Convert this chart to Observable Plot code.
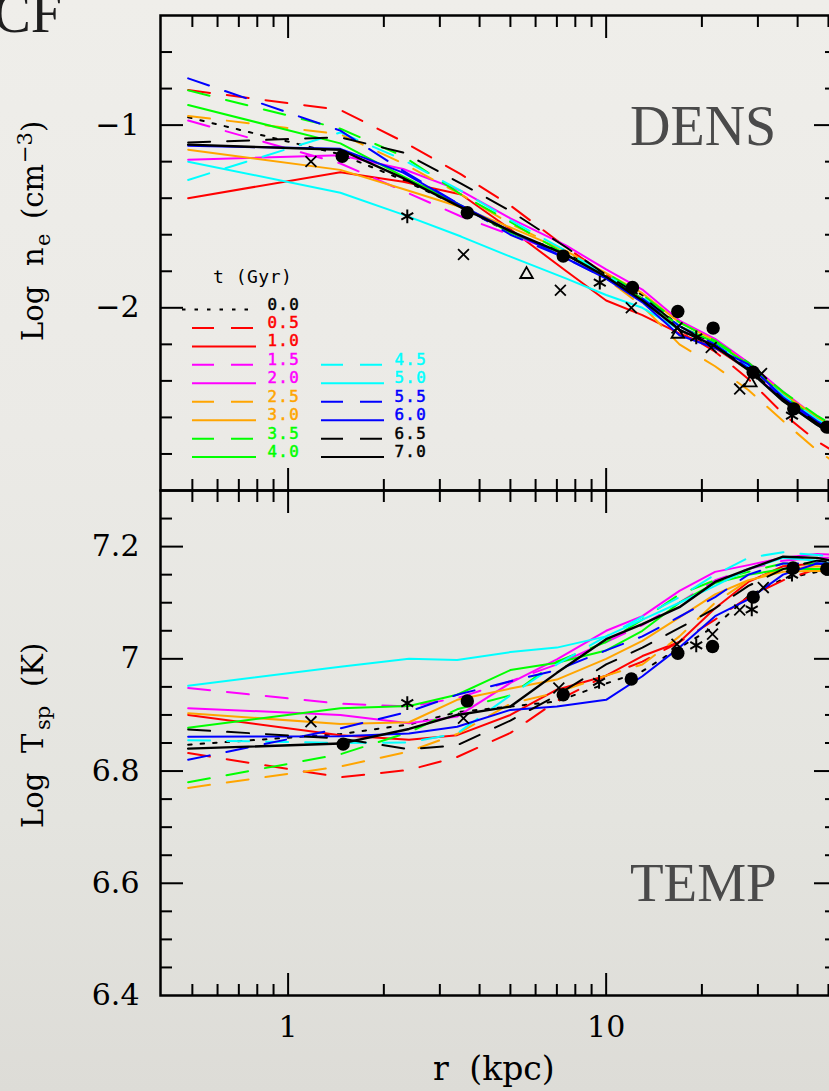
<!DOCTYPE html>
<html><head><meta charset="utf-8">
<script src="https://cdn.jsdelivr.net/npm/d3@7"></script>
<script src="https://cdn.jsdelivr.net/npm/@observablehq/plot@0.6"></script>
<style>
html,body{margin:0;padding:0;width:829px;height:1091px;overflow:hidden;}
body{position:relative;background:linear-gradient(180deg,#efeeea 0%,#ebeae6 40%,#e4e4df 75%,#dddcd7 100%);}
#top,#bottom{position:absolute;left:0;width:837px;}
#top{top:0}
#bottom{top:480px}
#overlay{position:absolute;left:0;top:0;pointer-events:none}
</style></head>
<body>
<div id="top"></div>
<div id="bottom"></div>
<svg id="overlay" width="829" height="1091"></svg>
<script>
// ---------------- DATA ----------------
const times = ["0.0","0.5","1.0","1.5","2.0","2.5","3.0","3.5","4.0","4.5","5.0","5.5","6.0","6.5","7.0"];
const seriesColor = ["#000000","#ff0000","#ff0000","#ff00ff","#ff00ff","#ffa500","#ffa500","#00ff00","#00ff00","#00ffff","#00ffff","#0000ff","#0000ff","#000000","#000000"];
const seriesDash = ["dot","dash","solid","dash","solid","dash","solid","dash","solid","dash","solid","dash","solid","dash","solid"];

// radii (kpc) of the profile nodes
const rDens = [0.485, 1.46, 2.3, 3.5, 5.0, 7.5, 10, 13, 17, 22, 28, 36, 46, 56];
const rTemp = [0.485, 1.46, 2.4, 3.4, 5.0, 7.0, 10, 13, 17, 22, 28, 36, 46, 56];

// Log n_e (cm^-3), one row per time
const logNe = [
  [-0.957,-1.16,-1.30,-1.45,-1.59,-1.70,-1.82,-1.93,-2.10,-2.20,-2.34,-2.50,-2.64,-2.73],
  [-0.808,-0.917,-1.09,-1.27,-1.44,-1.67,-1.82,-1.95,-2.12,-2.24,-2.39,-2.58,-2.73,-2.82],
  [-1.40,-1.258,-1.31,-1.38,-1.57,-1.80,-1.96,-2.04,-2.14,-2.22,-2.34,-2.51,-2.64,-2.73],
  [-0.975,-1.21,-1.36,-1.50,-1.60,-1.71,-1.83,-1.95,-2.11,-2.21,-2.34,-2.50,-2.63,-2.72],
  [-1.19,-1.165,-1.24,-1.36,-1.51,-1.66,-1.79,-1.90,-2.07,-2.17,-2.30,-2.46,-2.60,-2.70],
  [-0.95,-1.05,-1.21,-1.38,-1.54,-1.69,-1.84,-1.99,-2.20,-2.32,-2.45,-2.62,-2.78,-2.88],
  [-1.135,-1.245,-1.35,-1.45,-1.56,-1.69,-1.81,-1.92,-2.08,-2.18,-2.31,-2.47,-2.60,-2.69],
  [-0.81,-1.02,-1.17,-1.38,-1.53,-1.71,-1.81,-1.93,-2.08,-2.18,-2.30,-2.46,-2.59,-2.68],
  [-0.89,-1.10,-1.28,-1.44,-1.59,-1.71,-1.83,-1.95,-2.10,-2.19,-2.31,-2.48,-2.61,-2.70],
  [-1.30,-1.04,-1.19,-1.36,-1.52,-1.69,-1.82,-1.94,-2.10,-2.20,-2.32,-2.48,-2.61,-2.70],
  [-1.20,-1.37,-1.49,-1.61,-1.72,-1.84,-1.93,-2.00,-2.12,-2.21,-2.34,-2.51,-2.64,-2.73],
  [-0.744,-1.03,-1.25,-1.44,-1.60,-1.73,-1.84,-1.95,-2.10,-2.20,-2.33,-2.50,-2.63,-2.72],
  [-1.113,-1.13,-1.26,-1.44,-1.58,-1.73,-1.84,-1.97,-2.15,-2.22,-2.31,-2.49,-2.62,-2.71],
  [-1.095,-1.067,-1.15,-1.32,-1.47,-1.67,-1.82,-1.94,-2.10,-2.21,-2.33,-2.50,-2.63,-2.72],
  [-1.107,-1.135,-1.29,-1.45,-1.58,-1.71,-1.83,-1.96,-2.12,-2.21,-2.34,-2.51,-2.64,-2.73]
];

// Log T_sp (K), one row per time
const logT = [
  [6.847,6.866,6.883,6.905,6.915,6.924,6.956,6.978,7.02,7.058,7.112,7.142,7.155,7.155],
  [6.832,6.789,6.802,6.825,6.868,6.925,6.97,6.995,7.03,7.07,7.11,7.14,7.16,7.16],
  [6.90,6.864,6.856,6.864,6.90,6.945,6.97,7.005,7.03,7.09,7.137,7.165,7.17,7.165],
  [6.948,6.92,6.915,6.93,6.96,6.99,7.03,7.06,7.10,7.14,7.16,7.175,7.18,7.18],
  [6.912,6.90,6.885,6.897,6.957,6.999,7.05,7.076,7.121,7.155,7.167,7.18,7.187,7.185],
  [6.77,6.808,6.835,6.866,6.92,6.94,6.97,6.99,7.04,7.10,7.14,7.16,7.165,7.16],
  [6.903,6.884,6.887,6.927,6.947,6.963,7.0,7.032,7.074,7.115,7.14,7.155,7.157,7.155],
  [6.78,6.83,6.869,6.91,6.935,6.995,7.03,7.07,7.115,7.14,7.155,7.17,7.17,7.165],
  [6.877,6.912,6.916,6.936,6.98,6.993,7.015,7.05,7.10,7.135,7.15,7.16,7.16,7.16],
  [6.855,6.85,6.851,6.867,6.935,6.99,7.04,7.075,7.11,7.15,7.18,7.19,7.185,7.18],
  [6.952,6.986,7.0,6.998,7.012,7.02,7.04,7.07,7.10,7.13,7.16,7.18,7.175,7.165],
  [6.82,6.876,6.906,6.936,6.96,6.98,7.015,7.04,7.075,7.11,7.15,7.17,7.17,7.165],
  [6.861,6.862,6.867,6.879,6.909,6.915,6.927,6.969,7.02,7.076,7.106,7.15,7.17,7.17],
  [6.874,6.858,6.839,6.846,6.89,6.935,6.99,7.02,7.055,7.09,7.13,7.16,7.175,7.17],
  [6.84,6.849,6.875,6.90,6.915,6.975,7.035,7.062,7.092,7.137,7.16,7.182,7.18,7.17]
];

// observational points, density panel
const densCircleR = [1.48, 3.66, 7.33, 12.1, 16.8, 21.7, 29, 38.9, 49.4];
const densCircleV = [-1.171, -1.48, -1.717, -1.889, -2.02, -2.111, -2.353, -2.553, -2.653];
const densStarR = [2.37, 9.55, 19.2, 38.4];
const densStarV = [-1.499, -1.862, -2.162, -2.59];
const densCrossR = [1.18, 3.56, 7.18, 12.0, 16.7, 21.4, 26.3, 30.8];
const densCrossV = [-1.199, -1.708, -1.904, -2.0, -2.11, -2.217, -2.444, -2.36];
const densTriR = [5.62, 16.8, 28.4];
const densTriV = [-1.817, -2.144, -2.41];

// observational points, temperature panel
const tempCircleR = [1.49, 3.66, 7.33, 12.0, 16.8, 21.6, 29, 38.7, 49.4];
const tempCircleV = [6.848, 6.925, 6.936, 6.964, 7.01, 7.022, 7.11, 7.162, 7.16];
const tempStarR = [2.37, 9.5, 19.2, 28.7, 38.4];
const tempStarV = [6.921, 6.959, 7.024, 7.088, 7.15];
const tempCrossR = [1.18, 3.56, 7.1, 16.7, 21.6, 26.3, 31.2];
const tempCrossV = [6.888, 6.894, 6.948, 7.026, 7.044, 7.087, 7.127];

// axes
const xDomain = [0.397, 53];
const xMajor = [1, 10];
const xMinor = [0.5,0.6,0.7,0.8,0.9,2,3,4,5,6,7,8,9,20,30,40,50];
const xTickLabels = ["1", "10"];
const densDomain = [-3.0, -0.4];
const densMajor = [-1, -2];
const densMinor = [-0.6,-0.8,-1.2,-1.4,-1.6,-1.8,-2.2,-2.4,-2.6,-2.8];
const densTickLabels = ["\u22121", "\u22122"];
const tempDomain = [6.4, 7.3];
const tempMajor = [7.2, 7.0, 6.8, 6.6];
const tempMinor = [6.45,6.5,6.55,6.65,6.7,6.75,6.85,6.9,6.95,7.05,7.1,7.15,7.25];
const tempLabelVals = [7.2, 7.0, 6.8, 6.6, 6.4];
const tempTickLabels = ["7.2", "7", "6.8", "6.6", "6.4"];

// ---------------- DRAWING ----------------
const dashMap = {dot: "3.5,9", dash: "22,17", solid: undefined};
const serif = "'DejaVu Serif', serif";

function tickAxes(yMajor, yMinor) {
  const s = {stroke: "black", strokeWidth: 2, fill: "none", label: null};
  return [
    Plot.axisY(yMajor, {anchor: "left", tickSize: -23, ...s}),
    Plot.axisY(yMinor, {anchor: "left", tickSize: -12, ...s}),
    Plot.axisY(yMajor, {anchor: "right", tickSize: -23, ...s}),
    Plot.axisY(yMinor, {anchor: "right", tickSize: -12, ...s}),
    Plot.axisX(xMajor, {anchor: "top", tickSize: -22, ...s}),
    Plot.axisX(xMinor, {anchor: "top", tickSize: -11, ...s}),
    Plot.axisX(xMajor, {anchor: "bottom", tickSize: -22, ...s}),
    Plot.axisX(xMinor, {anchor: "bottom", tickSize: -11, ...s})
  ];
}

function seriesMarks(values, rNodes) {
  return values.map((vals, i) => {
    const rows = rNodes.map((r, j) => ({r, v: vals[j]}));
    return Plot.line(rows, {
      x: "r", y: "v", stroke: seriesColor[i],
      strokeWidth: i === 14 ? 2.4 : 2,
      strokeDasharray: dashMap[seriesDash[i]],
      clip: true
    });
  });
}

function pts(R, V) { return R.map((r, i) => ({r, v: V[i]})); }

const common = {
  width: 837,
  marginLeft: 160,
  marginRight: 1,
  style: {background: "transparent", maxWidth: "none", overflow: "visible"},
  x: {type: "log", domain: xDomain, axis: null}
};

const topPlot = Plot.plot({
  ...common,
  height: 490,
  marginTop: 15,
  marginBottom: 0,
  y: {domain: densDomain, axis: null},
  marks: [
    ...seriesMarks(logNe, rDens),
    Plot.dot(pts(densCircleR, densCircleV), {x: "r", y: "v", r: 6.7, fill: "black", stroke: "none"}),
    Plot.dot(pts(densStarR, densStarV), {x: "r", y: "v", r: 6.5, symbol: "asterisk", stroke: "black", strokeWidth: 2}),
    Plot.dot(pts(densCrossR, densCrossV), {x: "r", y: "v", r: 5, symbol: "times", stroke: "black", strokeWidth: 1.8}),
    Plot.dot(pts(densTriR, densTriV), {x: "r", y: "v", r: 6, symbol: "triangle2", stroke: "black", fill: "none", strokeWidth: 1.8}),
    ...tickAxes(densMajor, densMinor),
    Plot.axisY(densMajor, {anchor: "left", tickSize: 0, tickPadding: 21, label: null,
      tickFormat: d => densTickLabels[densMajor.indexOf(d)], fontSize: 30, fontFamily: serif, fill: "black"}),
    Plot.frame({stroke: "black", strokeWidth: 2.5})
  ]
});
document.getElementById("top").appendChild(topPlot);

const bottomPlot = Plot.plot({
  ...common,
  height: 611,
  marginTop: 10,
  marginBottom: 96,
  y: {domain: tempDomain, axis: null},
  marks: [
    ...seriesMarks(logT, rTemp),
    Plot.dot(pts(tempCircleR, tempCircleV), {x: "r", y: "v", r: 6.7, fill: "black", stroke: "none"}),
    Plot.dot(pts(tempStarR, tempStarV), {x: "r", y: "v", r: 6.5, symbol: "asterisk", stroke: "black", strokeWidth: 2}),
    Plot.dot(pts(tempCrossR, tempCrossV), {x: "r", y: "v", r: 5, symbol: "times", stroke: "black", strokeWidth: 1.8}),
    ...tickAxes(tempMajor, tempMinor),
    Plot.axisY(tempLabelVals, {anchor: "left", tickSize: 0, tickPadding: 21, label: null,
      tickFormat: d => tempTickLabels[tempLabelVals.indexOf(d)], fontSize: 30, fontFamily: serif, fill: "black"}),
    Plot.axisX(xMajor, {anchor: "bottom", tickSize: 0, tickPadding: 20, label: null,
      tickFormat: d => xTickLabels[xMajor.indexOf(d)], fontSize: 30, fontFamily: serif, fill: "black"}),
    Plot.frame({stroke: "black", strokeWidth: 2.5})
  ]
});
document.getElementById("bottom").appendChild(bottomPlot);

// ---------------- TEXT OVERLAY ----------------
const ov = d3.select("#overlay");
const times2 = "'Liberation Serif', 'Times New Roman', serif";

ov.append("text").attr("x", 62).attr("y", 32).attr("text-anchor", "end")
  .attr("font-family", times2).attr("font-size", 56).attr("fill", "#1e1e1e").text("CF");
ov.append("text").attr("x", 630).attr("y", 145)
  .attr("font-family", times2).attr("font-size", 56).attr("fill", "#4a4a4a").text("DENS");
ov.append("text").attr("x", 630).attr("y", 901)
  .attr("font-family", times2).attr("font-size", 55).attr("fill", "#4a4a4a").text("TEMP");

// x title
ov.append("text").attr("x", 433).attr("y", 1080).attr("font-family", serif).attr("font-size", 33)
  .attr("word-spacing", "10px").attr("fill", "black").text("r (kpc)");

// y titles (rotated)
function yTitle(tx, ty, pieces) {
  const g = ov.append("g").attr("transform", `translate(${tx},${ty}) rotate(-90)`)
    .attr("font-family", serif).attr("fill", "black");
  pieces.forEach(p => {
    g.append("text").attr("x", p[1]).attr("y", p[2]).attr("font-size", p[3]).text(p[0]);
  });
}
yTitle(43, 341, [["Log", 0, 0, 29], ["n", 75, 0, 29], ["e", 95, 7, 21], ["(cm", 122, 0, 29], ["\u22123", 178, -11, 21], [")", 209, 0, 29]]);
yTitle(43, 828, [["Log", 0, 0, 29], ["T", 75, 0, 29], ["sp", 98, 7, 21], ["(K)", 141, 0, 29]]);

// legend
const mono = "'DejaVu Sans Mono', monospace";
const lg = ov.append("g").attr("font-family", mono).attr("font-size", 15.8);
lg.append("text").attr("x", 213).attr("y", 283).attr("fill", "black")
  .attr("font-size", 18).attr("letter-spacing", "0.5px").text("t (Gyr)");
times.forEach((t, i) => {
  const col = i < 9 ? 0 : 1;
  const row = i < 9 ? i : i - 6;
  const yb = 309.5 + 18.45 * row;
  const x0 = col === 0 ? (seriesDash[i] === "dot" ? 182 : 192) : 321;
  const x1 = col === 0 ? (seriesDash[i] === "dot" ? 250 : 256) : 384;
  const xl = col === 0 ? 300 : 427;
  lg.append("line").attr("x1", x0).attr("x2", x1).attr("y1", yb).attr("y2", yb)
    .attr("stroke", seriesColor[i]).attr("stroke-width", 2)
    .attr("stroke-dasharray", dashMap[seriesDash[i]] || null);
  lg.append("text").attr("x", xl).attr("y", yb).attr("text-anchor", "end")
    .attr("letter-spacing", "1.3px")
    .attr("fill", seriesColor[i]).attr("stroke", seriesColor[i]).attr("stroke-width", 0.5)
    .text(t);
});
</script>
</body></html>
